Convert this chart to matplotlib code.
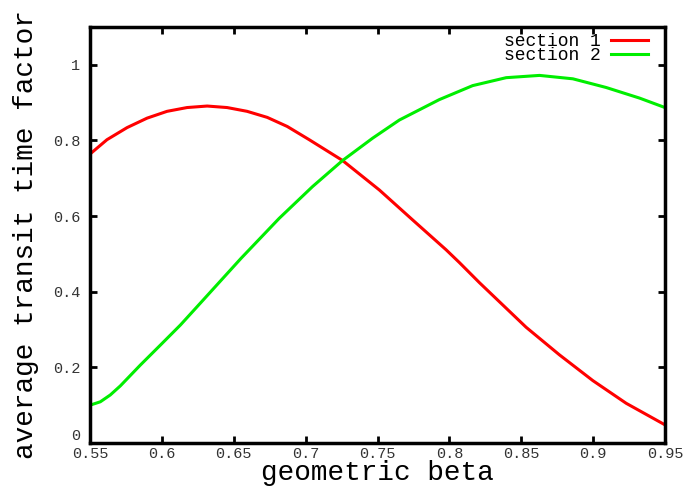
import numpy as np
import matplotlib.pyplot as plt

# valores
beta_1 = [0.55, 0.5618, 0.5758, 0.5897, 0.6036, 0.6175, 0.6315, 0.6454, 0.6593,
          0.6733, 0.6872, 0.7025, 0.7257, 0.7513, 0.7744, 0.7977, 0.807, 0.8209,
          0.8534, 0.8766, 0.8998, 0.923, 0.95]
ttf_1 = [0.764, 0.802, 0.834, 0.859, 0.877, 0.887, 0.891, 0.887, 0.877,
         0.861, 0.837, 0.802, 0.747, 0.669, 0.590, 0.511, 0.477, 0.424,
         0.306, 0.233, 0.165, 0.105, 0.048]

beta_2 = [0.55, 0.5572, 0.5641, 0.5711, 0.585, 0.599, 0.6129, 0.6268, 0.655,
          0.6816, 0.7048, 0.7257, 0.7466, 0.7652, 0.793, 0.8162, 0.8395, 0.8627,
          0.8859, 0.9091, 0.9323, 0.95]
ttf_2 = [0.100, 0.109, 0.127, 0.151, 0.206, 0.259, 0.312, 0.370, 0.488,
         0.594, 0.678, 0.747, 0.806, 0.854, 0.908, 0.945, 0.966, 0.972,
         0.963, 0.940, 0.912, 0.887]

xticks = [0.55, 0.6, 0.65, 0.7, 0.75, 0.8, 0.85, 0.9, 0.95]
xticklabels = ['0.55', '0.6', '0.65', '0.7', '0.75', '0.8', '0.85', '0.9', '0.95']
yticks = [0, 0.2, 0.4, 0.6, 0.8, 1]
yticklabels = ['0', '0.2', '0.4', '0.6', '0.8', '1']

plt.rcParams['font.family'] = ['Liberation Mono', 'DejaVu Sans Mono']

fig = plt.figure(figsize=(6.94, 4.87), dpi=100)
ax = fig.add_axes([90 / 694, 44 / 487, 575 / 694, 416 / 487])

ax.plot(beta_1, ttf_1, color='#ff0000', lw=2.2, label='section 1')
ax.plot(beta_2, ttf_2, color='#00ee00', lw=2.2, label='section 2')

ax.set_xlim(0.55, 0.95)
ax.set_ylim(0, 1.1)
ax.set_xticks(xticks)
ax.set_xticklabels(xticklabels, color='#333333')
ax.set_yticks(yticks)
ax.set_yticklabels(yticklabels, color='#333333')
ax.tick_params(direction='in', top=True, right=True, length=5, width=2,
               labelsize=11)
ax.tick_params(axis='x', pad=3)
ax.tick_params(axis='y', pad=7)
ax.get_yticklabels()[0].set_va('bottom')
for s in ax.spines.values():
    s.set_linewidth(2.5)

ax.set_xlabel('geometric beta', fontsize=20, labelpad=-1)
ax.set_ylabel('average transit time factor', fontsize=20, labelpad=10)

ax.legend(loc='upper right', frameon=False, markerfirst=False, fontsize=13,
          labelspacing=-0.15, handlelength=2.05, handletextpad=0.55,
          borderaxespad=0.2, bbox_to_anchor=(0.9885, 1.012))

fig.savefig('out.png', dpi=100)
